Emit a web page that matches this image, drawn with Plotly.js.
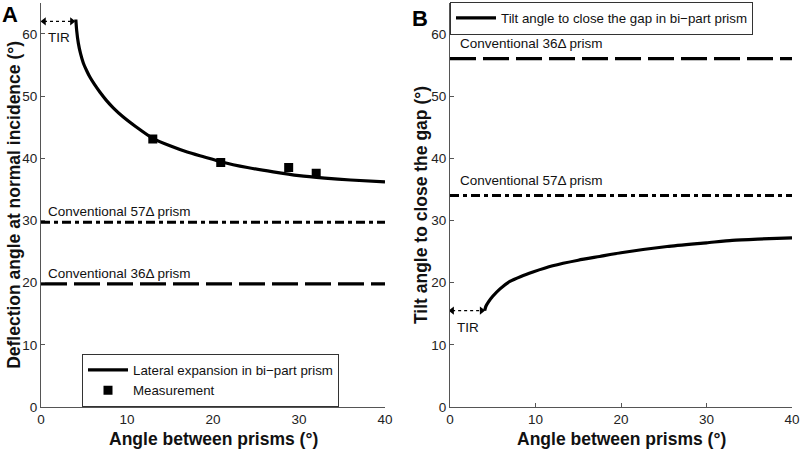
<!DOCTYPE html>
<html>
<head>
<meta charset="utf-8">
<script src="https://cdn.plot.ly/plotly-3.0.1.min.js"></script>
<style>html,body{margin:0;padding:0;background:#fff;}#chart{width:800px;height:449px;}</style>
</head>
<body>
<div id="chart"></div>
<script>
// Panel A: deflection angle vs angle between prisms
const lateralX = [4.05, 4.15, 4.34, 4.6, 4.92, 5.3, 5.7, 6.2, 6.86, 7.6, 8.4, 9.5, 11, 13, 15, 17, 19, 21, 24, 27, 30, 33, 36, 40];
const lateralY = [62.3, 60.5, 58.5, 56.8, 55.3, 54.1, 53.0, 51.9, 50.6, 49.3, 48.1, 46.7, 45.1, 43.2, 42.0, 41.0, 40.2, 39.4, 38.5, 37.8, 37.2, 36.8, 36.5, 36.2];
const measX = [13, 20.9, 28.8, 32];
const measY = [43.1, 39.3, 38.5, 37.6];
const convA57 = 29.7;
const convA36 = 19.8;
// Panel B: tilt angle to close the gap
const tiltX = [4.05, 4.2, 4.5, 5, 5.85, 7, 8.3, 9.7, 12, 15, 17.5, 20, 25.4, 30, 33, 36, 40];
const tiltY = [15.5, 16.2, 16.9, 17.8, 19.0, 20.2, 21.0, 21.7, 22.7, 23.6, 24.2, 24.8, 25.8, 26.4, 26.8, 27.0, 27.2];
const convB36 = 56;
const convB57 = 34;
// TIR arrows
const tirAX = [0.35, 3.6], tirAY = [62, 62];
const tirBX = [0.25, 3.7], tirBY = [15.5, 15.5];
const xRange = [0, 40];
const yRange = [0, 65];
const xTicks = [0, 10, 20, 30, 40];
const yTicks = [0, 10, 20, 30, 40, 50, 60];
const xTitle = 'Angle between prisms (\u00b0)';
const yTitleA = 'Deflection angle at normal incidence (\u00b0)';
const yTitleB = 'Tilt angle to close the gap (\u00b0)';

const FONT = 'Arial, "Liberation Sans", Helvetica, sans-serif';
const LW = 3.2;

const traces = [
  {x: lateralX, y: lateralY, xaxis: 'x', yaxis: 'y', mode: 'lines', name: 'Lateral expansion in bi\u2212part prism',
   line: {color: '#000', width: LW, shape: 'spline', smoothing: 0.6}, legend: 'legend'},
  {x: measX, y: measY, xaxis: 'x', yaxis: 'y', mode: 'markers', name: 'Measurement',
   marker: {symbol: 'square', size: 9, color: '#000'}, legend: 'legend'},
  {x: xRange, y: [convA57, convA57], xaxis: 'x', yaxis: 'y', mode: 'lines', showlegend: false,
   line: {color: '#000', width: LW, dash: '9px,4px,4px,4px'}},
  {x: xRange, y: [convA36, convA36], xaxis: 'x', yaxis: 'y', mode: 'lines', showlegend: false,
   line: {color: '#000', width: LW, dash: '26px,7px'}},
  {x: tirAX, y: tirAY, xaxis: 'x', yaxis: 'y', mode: 'lines+markers', showlegend: false,
   line: {color: '#000', width: 1.3, dash: 'dot'}, marker: {symbol: ['triangle-left', 'triangle-right'], size: 7, color: '#000'}},

  {x: tiltX, y: tiltY, xaxis: 'x2', yaxis: 'y2', mode: 'lines', name: 'Tilt angle to close the gap in bi\u2212part prism',
   line: {color: '#000', width: LW, shape: 'spline', smoothing: 0.6}, legend: 'legend2'},
  {x: xRange, y: [convB36, convB36], xaxis: 'x2', yaxis: 'y2', mode: 'lines', showlegend: false,
   line: {color: '#000', width: LW, dash: '26px,7px'}},
  {x: xRange, y: [convB57, convB57], xaxis: 'x2', yaxis: 'y2', mode: 'lines', showlegend: false,
   line: {color: '#000', width: LW, dash: '9px,4px,4px,4px'}},
  {x: tirBX, y: tirBY, xaxis: 'x2', yaxis: 'y2', mode: 'lines+markers', showlegend: false,
   line: {color: '#000', width: 1.3, dash: 'dot'}, marker: {symbol: ['triangle-left', 'triangle-right'], size: 7, color: '#000'}}
];

function xax(domain, anchor) {
  return {domain: domain, anchor: anchor, range: xRange, tickvals: xTicks, ticks: 'inside', ticklen: 4,
    tickcolor: '#555', showline: true, linecolor: '#555', linewidth: 1, showgrid: false, zeroline: false,
    tickfont: {family: FONT, size: 13.5, color: '#222'}};
}
function yax(anchor) {
  return {domain: [0.0935, 0.994], anchor: anchor, range: yRange, tickvals: yTicks, ticks: 'inside', ticklen: 4,
    tickcolor: '#555', showline: true, linecolor: '#555', linewidth: 1, showgrid: false, zeroline: false,
    tickfont: {family: FONT, size: 13.5, color: '#222'}};
}

const annFont = {family: FONT, size: 13.5, color: '#111'};
const titleFont = {family: FONT, size: 17.5, color: '#111', weight: 'bold'};
const layout = {
  width: 800, height: 449,
  margin: {l: 0, r: 0, t: 0, b: 0},
  paper_bgcolor: '#fff', plot_bgcolor: '#fff',
  showlegend: true,
  xaxis: xax([0.05125, 0.48125], 'y'),
  yaxis: yax('x'),
  xaxis2: xax([0.5625, 0.99], 'y2'),
  yaxis2: yax('x2'),
  legend: {x: 0.1025, y: 0.212, xanchor: 'left', yanchor: 'top', bgcolor: '#fff', bordercolor: '#333', borderwidth: 1,
    font: {family: FONT, size: 13.3, color: '#111'}, tracegroupgap: 0, itemwidth: 40},
  legend2: {x: 0.5625, y: 0.996, xanchor: 'left', yanchor: 'top', bgcolor: '#fff', bordercolor: '#333', borderwidth: 1,
    font: {family: FONT, size: 13.3, color: '#111'}, itemwidth: 40},
  annotations: [
    {xref: 'paper', yref: 'paper', x: 0.0, y: 1.0, xanchor: 'left', yanchor: 'top', text: '<b>A</b>', showarrow: false,
     font: {family: FONT, size: 22, color: '#000'}},
    {xref: 'paper', yref: 'paper', x: 0.513, y: 0.992, xanchor: 'left', yanchor: 'top', text: '<b>B</b>', showarrow: false,
     font: {family: FONT, size: 22, color: '#000'}},
    {xref: 'x domain', yref: 'paper', x: 0.5, y: -0.004, xanchor: 'center', yanchor: 'bottom', text: '<b>' + xTitle + '</b>', showarrow: false, font: titleFont},
    {xref: 'x2 domain', yref: 'paper', x: 0.5, y: -0.004, xanchor: 'center', yanchor: 'bottom', text: '<b>' + xTitle + '</b>', showarrow: false, font: titleFont},
    {xref: 'paper', yref: 'y domain', x: 0.0175, y: 0.5, xanchor: 'center', yanchor: 'middle', textangle: -90, text: '<b>' + yTitleA + '</b>', showarrow: false, font: titleFont},
    {xref: 'paper', yref: 'y2 domain', x: 0.5265, y: 0.5, xanchor: 'center', yanchor: 'middle', textangle: -90, text: '<b>' + yTitleB + '</b>', showarrow: false, font: titleFont},
    {xref: 'x', yref: 'y', x: 0.6, y: 31.4, xanchor: 'left', yanchor: 'middle', text: 'Conventional 57\u0394 prism', showarrow: false, font: annFont},
    {xref: 'x', yref: 'y', x: 0.6, y: 21.5, xanchor: 'left', yanchor: 'middle', text: 'Conventional 36\u0394 prism', showarrow: false, font: annFont},
    {xref: 'x', yref: 'y', x: 2.1, y: 59.4, xanchor: 'center', yanchor: 'middle', text: 'TIR', showarrow: false, font: annFont},
    {xref: 'x2', yref: 'y2', x: 0.95, y: 58.4, xanchor: 'left', yanchor: 'middle', text: 'Conventional 36\u0394 prism', showarrow: false, font: annFont},
    {xref: 'x2', yref: 'y2', x: 0.95, y: 36.4, xanchor: 'left', yanchor: 'middle', text: 'Conventional 57\u0394 prism', showarrow: false, font: annFont},
    {xref: 'x2', yref: 'y2', x: 2.1, y: 12.8, xanchor: 'center', yanchor: 'middle', text: 'TIR', showarrow: false, font: annFont}
  ]
};

Plotly.newPlot('chart', traces, layout, {displayModeBar: false, staticPlot: true});
</script>
</body>
</html>
